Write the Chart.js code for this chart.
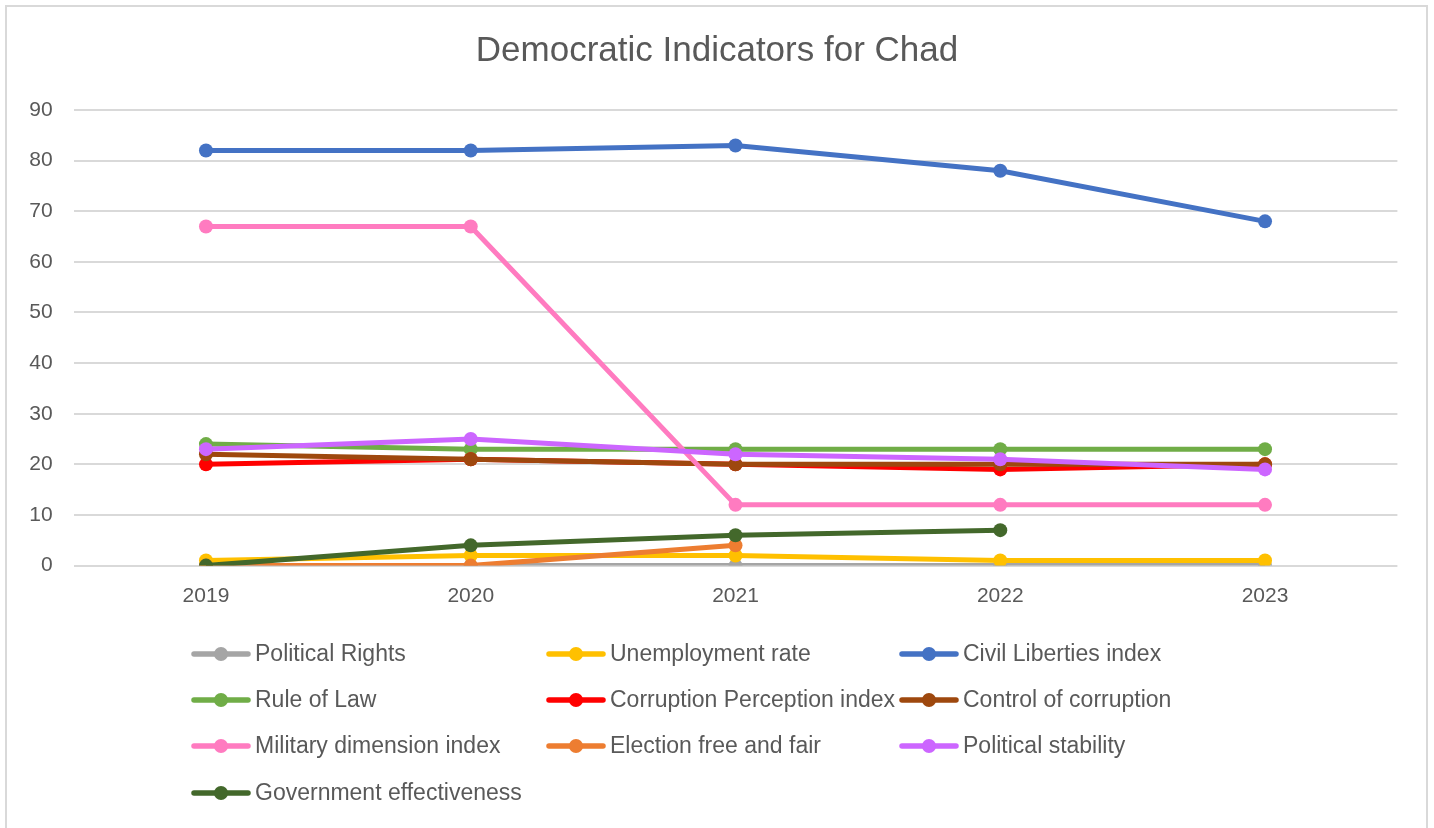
<!DOCTYPE html>
<html>
<head>
<meta charset="utf-8">
<script src="https://cdn.jsdelivr.net/npm/chart.js@4/dist/chart.umd.min.js"></script>
<style>
  html, body { margin: 0; padding: 0; background: #ffffff; }
  #wrap { position: relative; width: 1434px; height: 828px; }
</style>
</head>
<body>
<div id="wrap"><canvas id="c" width="1434" height="828"></canvas></div>
<script>
const categories = ['2019', '2020', '2021', '2022', '2023'];
const politicalRights = [0, 0, 0, 0, 0];
const unemploymentRate = [1, 2, 2, 1, 1];
const civilLiberties = [82, 82, 83, 78, 68];
const ruleOfLaw = [24, 23, 23, 23, 23];
const corruptionPerception = [20, 21, 20, 19, 20];
const controlOfCorruption = [22, 21, 20, 20, 20];
const militaryDimension = [67, 67, 12, 12, 12];
const electionFreeFair = [0, 0, 4, null, null];
const politicalStability = [23, 25, 22, 21, 19];
const governmentEffectiveness = [0, 4, 6, 7, null];
const yTicks = [0, 10, 20, 30, 40, 50, 60, 70, 80, 90];

const seriesNames = ['Political Rights', 'Unemployment rate', 'Civil Liberties index', 'Rule of Law',
  'Corruption Perception index', 'Control of corruption', 'Military dimension index',
  'Election free and fair', 'Political stability', 'Government effectiveness'];
const seriesValues = [politicalRights, unemploymentRate, civilLiberties, ruleOfLaw,
  corruptionPerception, controlOfCorruption, militaryDimension, electionFreeFair,
  politicalStability, governmentEffectiveness];
const seriesColors = ['#A5A5A5', '#FFC000', '#4472C4', '#70AD47', '#FF0000', '#9E480E',
  '#FF7BC0', '#ED7D31', '#CC66FF', '#43682B'];

const FONT = "'Liberation Sans', Arial, sans-serif";
const TEXT = '#595959';

const datasets = seriesNames.map((name, i) => ({
  label: name,
  data: seriesValues[i],
  yAxisID: 'y',
  borderColor: seriesColors[i],
  backgroundColor: seriesColors[i],
  borderWidth: 5,
  pointRadius: 7,
  pointHoverRadius: 7,
  pointBorderWidth: 0,
  pointBackgroundColor: seriesColors[i],
  spanGaps: false,
  order: seriesNames.length - 1 - i,
  tension: 0
}));

const frameAndLegend = {
  id: 'frameAndLegend',
  beforeDraw(chart) {
    const ctx = chart.ctx;
    ctx.save();
    ctx.fillStyle = '#ffffff';
    ctx.fillRect(0, 0, chart.width, chart.height);
    ctx.strokeStyle = '#D9D9D9';
    ctx.lineWidth = 2;
    ctx.strokeRect(6, 6, 1421, 840);
    ctx.restore();
  },
  afterDraw(chart) {
    const ctx = chart.ctx;
    const colX = [192, 547, 900];
    const rowY = [654, 700, 746, 793];
    ctx.save();
    chart.data.datasets.forEach((ds, i) => {
      const x = colX[i % 3];
      const y = rowY[Math.floor(i / 3)];
      ctx.strokeStyle = ds.borderColor;
      ctx.lineWidth = 5.5;
      ctx.lineCap = 'round';
      ctx.beginPath();
      ctx.moveTo(x + 2, y);
      ctx.lineTo(x + 56, y);
      ctx.stroke();
      ctx.fillStyle = ds.borderColor;
      ctx.beginPath();
      ctx.arc(x + 29, y, 7, 0, Math.PI * 2);
      ctx.fill();
      ctx.fillStyle = TEXT;
      ctx.font = '23px ' + FONT;
      ctx.textAlign = 'left';
      ctx.textBaseline = 'middle';
      ctx.fillText(ds.label, x + 63, y + 1);
    });
    ctx.restore();
  }
};

new Chart(document.getElementById('c'), {
  type: 'line',
  data: { labels: categories, datasets: datasets },
  plugins: [frameAndLegend],
  options: {
    responsive: false,
    animation: false,
    events: [],
    layout: { padding: { left: 0, right: 0, top: 30, bottom: 200.4 } },
    plugins: {
      legend: { display: false },
      tooltip: { enabled: false },
      title: {
        display: true,
        text: 'Democratic Indicators for Chad',
        color: TEXT,
        font: { family: FONT, size: 35, weight: 'normal', lineHeight: 1.2 },
        padding: { top: 0, bottom: 38 }
      }
    },
    scales: {
      x: {
        offset: true,
        grid: { display: false, drawTicks: false },
        border: { display: false },
        ticks: { color: TEXT, font: { family: FONT, size: 21 }, padding: 18.4, maxRotation: 0 }
      },
      y: {
        position: 'left',
        min: 0,
        max: 90,
        afterBuildTicks(scale) { scale.ticks = yTicks.map(v => ({ value: v })); },
        afterFit(scale) { scale.width = 73.6; },
        grid: { color: '#D9D9D9', lineWidth: 2, drawTicks: false },
        border: { display: false },
        ticks: { color: TEXT, font: { family: FONT, size: 21 }, padding: 21 }
      },
      yRightSpace: {
        position: 'right',
        display: true,
        min: 0,
        max: 90,
        afterFit(scale) { scale.width = 36.6; },
        grid: { display: false, drawTicks: false },
        border: { display: false },
        ticks: { display: false }
      }
    }
  }
});
</script>
</body>
</html>
